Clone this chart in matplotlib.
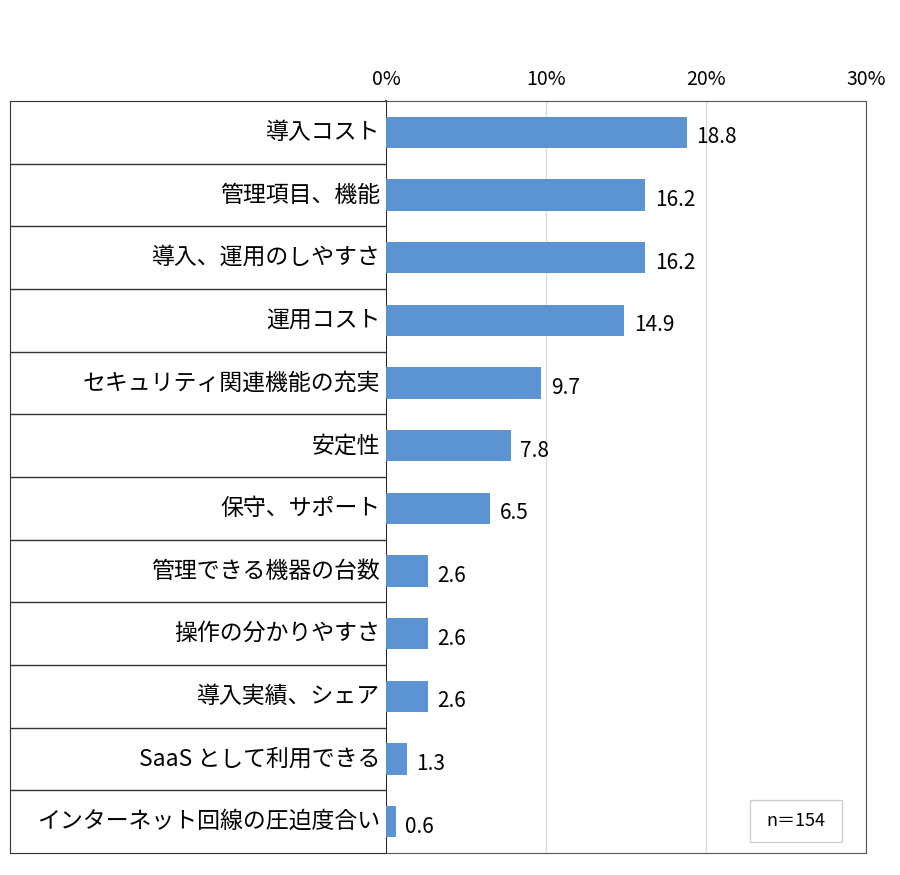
import matplotlib
matplotlib.use("Agg")
import matplotlib.pyplot as plt
from matplotlib.patches import Rectangle

plt.rcParams['font.family'] = ['Noto Sans CJK JP', 'DejaVu Sans']

# data
labels = ['導入コスト', '管理項目、機能', '導入、運用のしやすさ', '運用コスト',
          'セキュリティ関連機能の充実', '安定性', '保守、サポート',
          '管理できる機器の台数', '操作の分かりやすさ', '導入実績、シェア',
          'SaaS として利用できる', 'インターネット回線の圧迫度合い']
values = [18.8, 16.2, 16.2, 14.9, 9.7, 7.8, 6.5, 2.6, 2.6, 2.6, 1.3, 0.6]
xticks = [0, 10, 20, 30]
xtick_labels = ['0%', '10%', '20%', '30%']
n_note = 'n＝154'

W, H = 900, 875
fig = plt.figure(figsize=(9, 8.75), dpi=100)

left_px, right_px, top_px, bot_px = 386, 866, 101, 853
ax = fig.add_axes([left_px / W, 1 - bot_px / H, (right_px - left_px) / W, (bot_px - top_px) / H])
lab = fig.add_axes([10 / W, 1 - bot_px / H, (left_px - 10) / W, (bot_px - top_px) / H])

n = len(labels)
ypos = list(range(n))

ax.barh(ypos, values, height=0.5, color='#5b93d3', zorder=3)
ax.set_ylim(n - 0.5, -0.5)
ax.set_xlim(0, 30)
ax.set_xticks(xticks)
ax.set_xticklabels(xtick_labels, fontsize=14)
ax.xaxis.tick_top()
ax.tick_params(axis='x', length=0, pad=8)
ax.set_yticks([])
ax.grid(axis='x', color='#d9d9d9', linewidth=0.9, zorder=0)
for s in ['top', 'bottom', 'right']:
    ax.spines[s].set_color('#555555')
ax.spines['left'].set_color('black')
ax.spines['left'].set_linewidth(1.2)

for y, v in zip(ypos, values):
    ax.text(v + 0.6, y + 0.08, f'{v:.1f}', va='center', ha='left', fontsize=15)

# n note box
ax.add_patch(Rectangle((0.758, 0.0146), 0.192, 0.056, transform=ax.transAxes,
                       facecolor='white', edgecolor='#cccccc', linewidth=0.9, zorder=4))
ax.text(0.854, 0.0425, n_note, transform=ax.transAxes, ha='center', va='center',
        fontsize=13, zorder=5)

# label table on the left
lab.set_xlim(0, 1)
lab.set_ylim(n - 0.5, -0.5)
lab.set_xticks([])
lab.set_yticks([])
for s in lab.spines.values():
    s.set_color('#333333')
lab.spines['right'].set_visible(False)
for i in range(1, n):
    lab.axhline(i - 0.5, color='#333333', linewidth=1)
for y, t in zip(ypos, labels):
    lab.text(0.985, y, t, ha='right', va='center', fontsize=16.5)

fig.savefig('out.png', dpi=100)
